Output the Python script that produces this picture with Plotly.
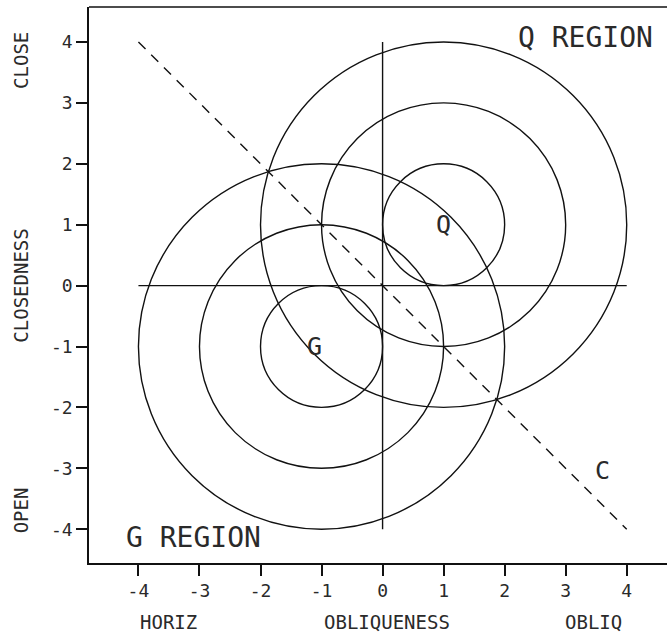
import plotly.graph_objects as go

# Concentric circle sets: centre coordinates and radii
q_center = (1, 1)
g_center = (-1, -1)
radii = [1, 2, 3]

# Reference lines
axis_extent = 4
diag_start = (-4, 4)
diag_end = (4, -4)

# Tick positions and labels
tick_vals = [-4, -3, -2, -1, 0, 1, 2, 3, 4]
tick_text = ["-4", "-3", "-2", "-1", "0", "1", "2", "3", "4"]

# Text labels in data space
point_labels = [("Q", 1.0, 1.0), ("G", -1.12, -1.0), ("C", 3.6, -3.03)]
region_labels = [("Q REGION", 3.32, 4.08), ("G REGION", -3.1, -4.13)]
x_titles = [("HORIZ", -3.5), ("OBLIQUENESS", 0.08), ("OBLIQ", 3.46)]
y_titles = [("CLOSE", 3.69), ("CLOSEDNESS", 0.0), ("OPEN", -3.69)]

FONT = "DejaVu Sans Mono"
INK = "#111111"
TEXT = "#2a2a2a"

fig = go.Figure()

# invisible trace so the axes are created
fig.add_trace(go.Scatter(x=[0], y=[0], mode="markers", marker=dict(opacity=0),
                         hoverinfo="skip", showlegend=False))

shapes = []
for cx, cy in (q_center, g_center):
    for r in radii:
        shapes.append(dict(type="circle", xref="x", yref="y",
                           x0=cx - r, x1=cx + r, y0=cy - r, y1=cy + r,
                           line=dict(color=INK, width=1.4)))

shapes.append(dict(type="line", xref="x", yref="y", x0=0, x1=0,
                   y0=-axis_extent, y1=axis_extent, line=dict(color=INK, width=1.4)))
shapes.append(dict(type="line", xref="x", yref="y", x0=-axis_extent, x1=axis_extent,
                   y0=0, y1=0, line=dict(color=INK, width=1.4)))
shapes.append(dict(type="line", xref="x", yref="y",
                   x0=diag_start[0], y0=diag_start[1], x1=diag_end[0], y1=diag_end[1],
                   line=dict(color=INK, width=1.4, dash="10px,8px")))
# top border of the frame
shapes.append(dict(type="line", xref="paper", yref="paper", x0=0, x1=1, y0=1, y1=1,
                   line=dict(color=INK, width=1.5)))

annotations = []
for txt, x, y in point_labels:
    annotations.append(dict(text=txt, x=x, y=y, xref="x", yref="y", showarrow=False,
                            font=dict(family=FONT, size=25, color=TEXT)))
for txt, x, y in region_labels:
    annotations.append(dict(text=txt, x=x, y=y, xref="x", yref="y", showarrow=False,
                            font=dict(family=FONT, size=28, color=TEXT)))
for txt, x in x_titles:
    annotations.append(dict(text=txt, x=x, y=-0.107, xref="x", yref="paper",
                            showarrow=False, yanchor="middle",
                            font=dict(family=FONT, size=19, color=TEXT)))
for txt, y in y_titles:
    annotations.append(dict(text=txt, x=-0.1176, y=y, xref="paper", yref="y",
                            showarrow=False, textangle=-90, xanchor="center",
                            font=dict(family=FONT, size=19, color=TEXT)))

axis_common = dict(
    tickvals=tick_vals, ticktext=tick_text, ticks="outside", ticklen=11,
    tickwidth=1.5, tickcolor=INK, showline=True, linecolor=INK, linewidth=1.5,
    showgrid=False, zeroline=False, tickfont=dict(family=FONT, size=18, color=TEXT),
)

fig.update_layout(
    width=667, height=636,
    margin=dict(l=89, r=0, t=7, b=73),
    paper_bgcolor="white", plot_bgcolor="white",
    xaxis=dict(range=[-4.81, 4.66], **axis_common),
    yaxis=dict(range=[-4.555, 4.575], **axis_common),
    shapes=shapes, annotations=annotations, showlegend=False,
)

fig.write_html("out.html")
